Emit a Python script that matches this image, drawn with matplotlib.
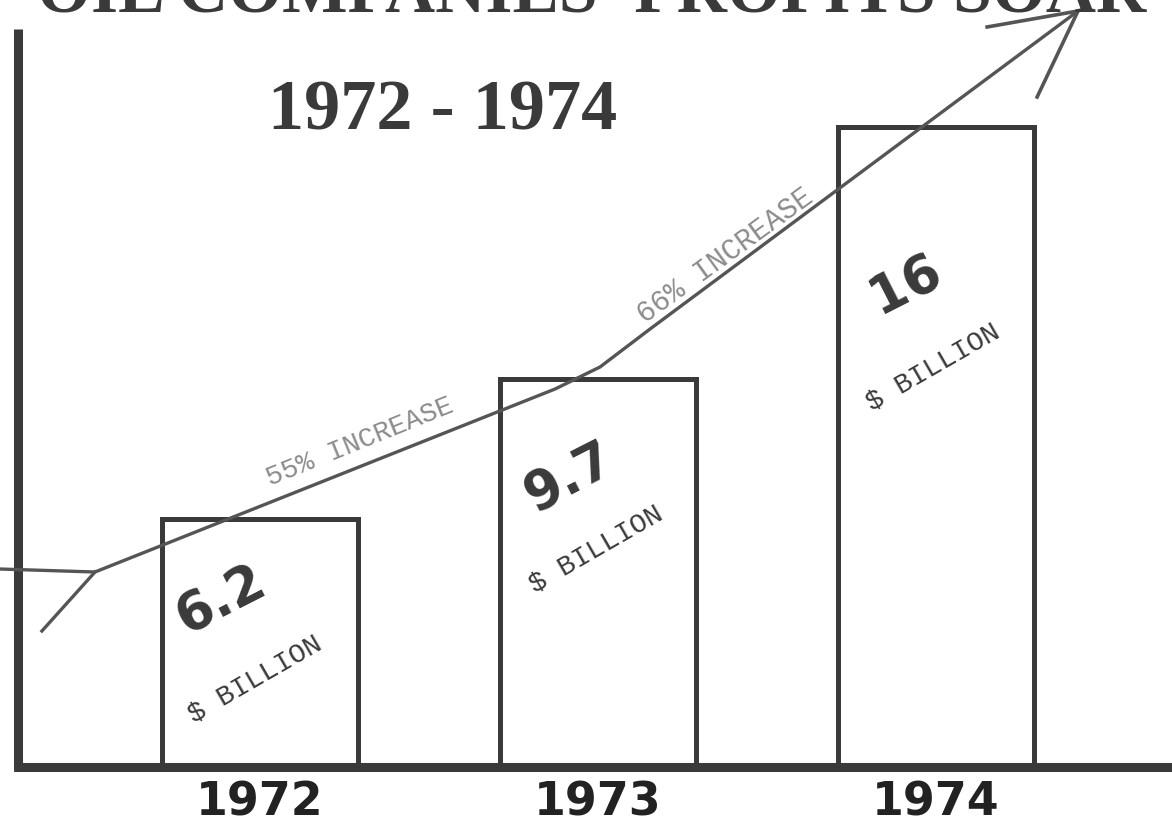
import numpy as np
import matplotlib
matplotlib.use("Agg")
import matplotlib.pyplot as plt

# data
years = ["1972", "1973", "1974"]
profits = [6.2, 9.7, 16]
value_labels = ["6.2", "9.7", "16"]
increase_labels = ["55% INCREASE", "66% INCREASE"]
title = "OIL COMPANIES' PROFITS SOAR"
subtitle = "1972 - 1974"

# trend arrow, in bar units (x = bar index, y = $ billion)
trend_x = [-0.77, -0.488, 0.873, 1.006, 1.154, 2.420]
trend_y = [4.95, 4.875, 9.45, 10.0, 10.95, 18.9]
tail_x = [-0.488, -0.645]
tail_y = [4.875, 3.4]
head_x = [2.151, 2.420, 2.299]
head_y = [18.5, 18.9, 16.75]

dark = "#3a3a3a"
grey = "#555555"
light = "#8c8c8c"

fig = plt.figure(figsize=(11.72, 8.28), dpi=100)
ax = fig.add_axes([0, 0, 1, 1])
ax.set_xlim(-0.769, 2.698)
ax.set_ylim(-1.5, 19.2)
ax.axis("off")

x = np.arange(len(years))

# axes drawn by hand, like the original
ax.plot([-0.716, -0.716], [18.45, -0.1], color=dark, lw=6.5, solid_capstyle="butt")
ax.plot([-0.728, 2.7], [0, 0], color=dark, lw=6.5, solid_capstyle="butt")

ax.bar(x, profits, width=0.58, fill=False, edgecolor=dark, linewidth=3.6)

ax.plot(trend_x, trend_y, color=grey, lw=2.4, solid_joinstyle="round")
ax.plot(tail_x, tail_y, color=grey, lw=2.4)
ax.plot(head_x, head_y, color=grey, lw=2.6, solid_joinstyle="miter")

# value labels inside the bars
val_pos = [(-0.115, 4.2), (-0.085, 7.25), (-0.09, 12.1)]
bil_pos = [(-0.015, 2.2), (-0.005, 5.45), (-0.009, 10.0)]
for i in range(len(years)):
    ax.text(x[i] + val_pos[i][0], val_pos[i][1], value_labels[i],
            fontsize=38, fontweight="bold", color=dark, rotation=27,
            ha="center", va="center", family="DejaVu Sans")
    ax.text(x[i] + bil_pos[i][0], bil_pos[i][1], "$ BILLION",
            fontsize=20, color=dark, rotation=30,
            ha="center", va="center", family="Liberation Mono")
    ax.text(x[i], -0.88, years[i], fontsize=33, fontweight="bold",
            color="#222222", ha="center", va="center",
            family="DejaVu Sans")

ax.text(0.296, 8.15, increase_labels[0], fontsize=20, color=light,
        rotation=22, ha="center", va="center", family="Liberation Mono")
ax.text(1.375, 12.8, increase_labels[1], fontsize=21, color=light,
        rotation=36, ha="center", va="center", family="Liberation Mono")

ax.text(0.541, 16.4, subtitle, fontsize=52, fontweight="bold", color=dark,
        ha="center", va="center", family="Liberation Serif")

# title is cut off at the top edge in the source
ax.text(0.98, 18.88, title, fontsize=50, fontweight="bold", color=dark,
        ha="center", va="baseline", family="Liberation Serif")

fig.savefig("out.png", dpi=100)
